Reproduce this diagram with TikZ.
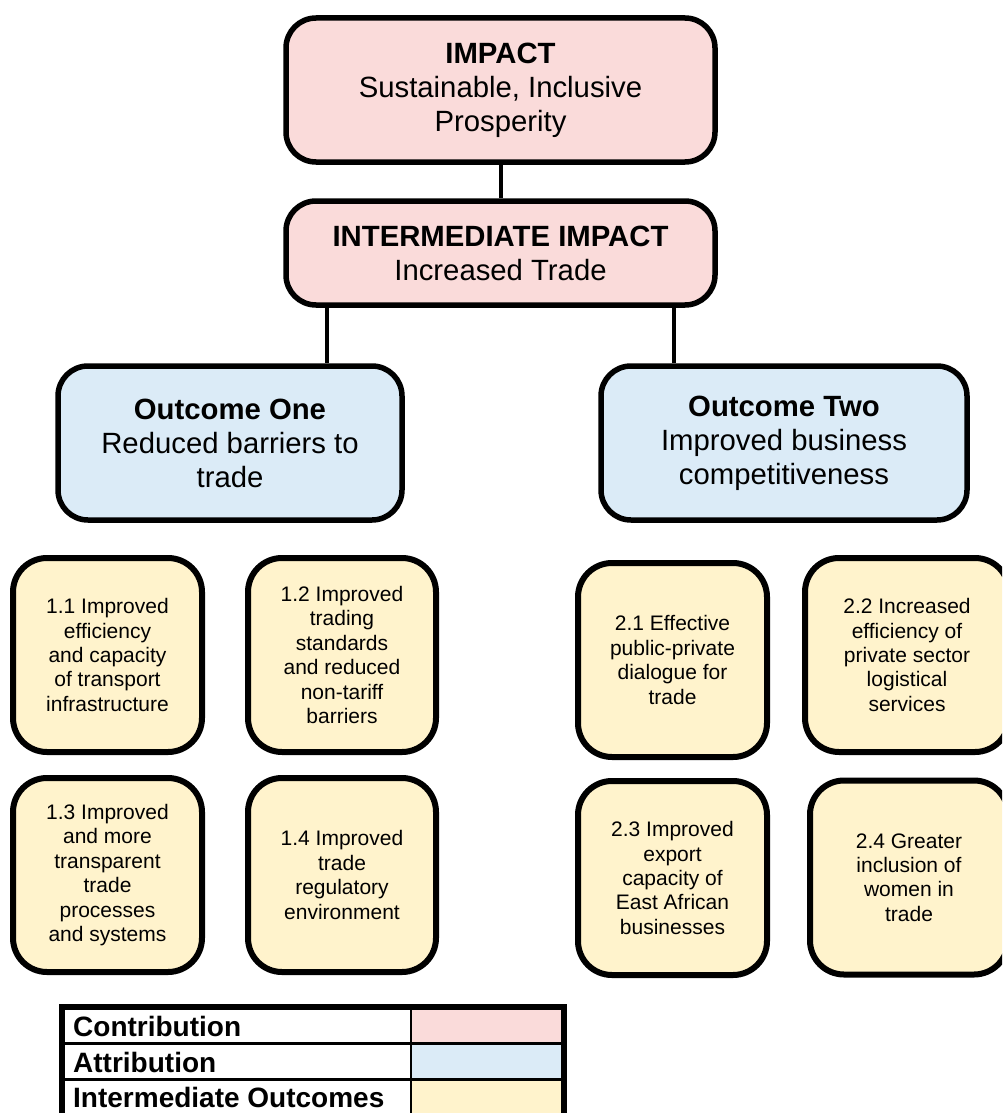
\documentclass[tikz,border=0pt]{standalone}
\usepackage{fontspec}
\setmainfont{Liberation Sans}
\definecolor{pinkfill}{HTML}{FADBDA}
\definecolor{bluefill}{HTML}{DBEBF7}
\definecolor{yellowfill}{HTML}{FFF3CC}
\begin{document}
\begin{tikzpicture}[x=1pt,y=-1pt,
  topbox/.style={draw, line width=5.5pt, rounded corners=30pt, align=center,
    font=\fontsize{29.3}{34}\selectfont, inner sep=0pt},
  impactbox/.style={topbox, fill=pinkfill, minimum width=429pt},
  outbox/.style={topbox, fill=bluefill, minimum height=154pt},
  resbox/.style={draw, line width=6pt, rounded corners=34pt, fill=yellowfill, align=center,
    font=\fontsize{21}{24.4}\selectfont, inner sep=0pt, minimum height=194pt},
  link/.style={line width=4pt},
  legtext/.style={anchor=west, font=\bfseries\fontsize{28}{32}\selectfont, inner sep=0pt},
  legcell/.style={draw, line width=2pt, minimum height=35pt, inner sep=0pt}]
\useasboundingbox (0,0) rectangle (1002,1113);
\clip (0,0) rectangle (1002,1113);

% impact level
\node[impactbox, minimum height=144pt] (impact) at (500.5,90)
  {\textbf{IMPACT}\\Sustainable, Inclusive\\Prosperity};
\node[impactbox, minimum height=104pt] (inter) at (500.5,253)
  {\textbf{INTERMEDIATE IMPACT}\\Increased Trade};

% outcomes
\node[outbox, minimum width=344pt] (o1) at (230,443) {\textbf{Outcome One}\\Reduced barriers to\\trade};
\node[outbox, minimum width=366pt] (o2) at (784,443) {\textbf{Outcome Two}\\Improved business\\competitiveness};

% connectors
\coordinate (j1) at (327,330);
\coordinate (j2) at (674,330);
\draw[link] (impact.south) -- (inter.north);
\draw[link] (j1 |- inter.south) -- (j1 |- o1.north);
\draw[link] (j2 |- inter.south) -- (j2 |- o2.north);

% intermediate outcomes
\node[resbox, minimum width=189pt] (r11) at (107.5,655)
  {1.1 Improved\\efficiency\\and capacity\\of transport\\infrastructure};
\node[resbox, minimum width=188pt] (r12) at (342,655)
  {1.2 Improved\\trading\\standards\\and reduced\\non-tariff\\barriers};
\node[resbox, minimum width=189pt] (r13) at (107.5,875)
  {1.3 Improved\\and more\\transparent\\trade\\processes\\and systems};
\node[resbox, minimum width=188pt] (r14) at (342,875)
  {1.4 Improved\\trade\\regulatory\\environment};
\node[resbox, minimum width=189pt] (r21) at (672.5,660)
  {2.1 Effective\\public-private\\dialogue for\\trade};
\node[resbox, minimum width=204pt] (r22) at (907,655)
  {2.2 Increased\\efficiency of\\private sector\\logistical\\services};
\node[resbox, minimum width=189pt] (r23) at (672.5,878)
  {2.3 Improved\\export\\capacity of\\East African\\businesses};
\node[resbox, minimum width=198pt] (r24) at (909,877.5)
  {2.4 Greater\\inclusion of\\women in\\trade};

% legend
\node[legcell, minimum width=348pt] (l1) at (237,1025.5) {};
\node[legcell, minimum width=152pt, fill=pinkfill] (c1) at (487,1025.5) {};
\node[legcell, minimum width=348pt] (l2) at (237,1061.5) {};
\node[legcell, minimum width=152pt, fill=bluefill] (c2) at (487,1061.5) {};
\node[legcell, minimum width=348pt] (l3) at (237,1097.5) {};
\node[legcell, minimum width=152pt, fill=yellowfill] (c3) at (487,1097.5) {};
\draw[line width=6pt] (l1.north west) rectangle (c3.south east);
\node[legtext] at ([xshift=11pt,yshift=-1pt]l1.west) {Contribution};
\node[legtext] at ([xshift=11pt,yshift=-0.5pt]l2.west) {Attribution};
\node[legtext] at ([xshift=11pt,yshift=0pt]l3.west) {Intermediate Outcomes};
\end{tikzpicture}
\end{document}
